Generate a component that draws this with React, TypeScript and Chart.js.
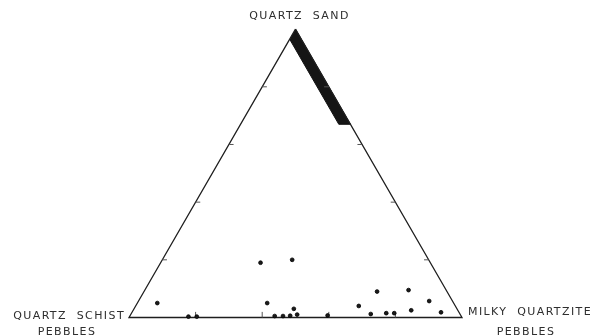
import React, { useEffect, useRef } from "react";
import { Chart, registerables } from "chart.js";

Chart.register(...registerables);

// Ternary compositions (percent): quartz sand (apex), quartz schist pebbles (left), milky quartzite pebbles (right)
const sampleSand = [5, 19, 20, 5, 3, 1, 0.3, 0.3, 0.5, 0.5, 0.6, 0.7, 9, 9.5, 4, 5.7, 2.5, 1.8, 1.2, 1.5, 1.5];
const sampleSchist = [89, 51, 41, 56, 49, 49, 82, 79.5, 56, 53.5, 51.3, 40, 21, 11.3, 29, 7, 14, 5.4, 26.8, 22, 19.6];
const sampleMilky = [6, 30, 39, 39, 48, 50, 17.7, 20.2, 43.5, 46, 48.1, 59.3, 70, 79.2, 67, 87.3, 83.5, 92.8, 72, 76.5, 78.9];

// Shaded field along the sand–milky quartzite side
const bandSand = [100, 67, 67, 96.5];
const bandSchist = [0, 0, 3.5, 3.5];

// Tick marks on each side (percent)
const tickValues = [20, 40, 60, 80];

const apexLabel = ["QUARTZ  SAND"];
const leftLabel = ["QUARTZ  SCHIST", "PEBBLES"];
const rightLabel = ["MILKY  QUARTZITE", "PEBBLES"];

const H = Math.sqrt(3) / 2;
function toXY(sand: number, schist: number, milky: number) {
  const s = sand + schist + milky;
  const a = sand / s;
  const c = milky / s;
  return { x: c + a / 2, y: a * H };
}

export default function App() {
  const ref = useRef<HTMLCanvasElement | null>(null);

  useEffect(() => {
    if (!ref.current) return;

    const points = sampleSand.map((s, i) => toXY(s, sampleSchist[i], sampleMilky[i]));
    const triangle = [toXY(100, 0, 0), toXY(0, 100, 0), toXY(0, 0, 100), toXY(100, 0, 0)];
    const band = bandSand.map((s, i) => toXY(s, bandSchist[i], 100 - s - bandSchist[i]));

    const tl = 0.014;
    const ticks: { x: number; y: number | null }[] = [];
    tickValues.forEach((t) => {
      const l = toXY(t, 100 - t, 0);
      ticks.push({ x: l.x, y: l.y }, { x: l.x + tl, y: l.y }, { x: l.x + tl, y: null });
      const r = toXY(t, 0, 100 - t);
      ticks.push({ x: r.x, y: r.y }, { x: r.x - tl, y: r.y }, { x: r.x - tl, y: null });
      const b = toXY(0, 100 - t, t);
      ticks.push({ x: b.x, y: b.y }, { x: b.x, y: b.y + tl * 1.2 }, { x: b.x, y: null });
    });

    const labelPlugin = {
      id: "ternaryLabels",
      afterDraw(chart: any) {
        const ctx = chart.ctx;
        const xs = chart.scales.x;
        const ys = chart.scales.y;
        const px = (p: { x: number; y: number }) => ({ x: xs.getPixelForValue(p.x), y: ys.getPixelForValue(p.y) });
        const A = px(toXY(100, 0, 0));
        const B = px(toXY(0, 100, 0));
        const C = px(toXY(0, 0, 100));
        ctx.save();
        ctx.fillStyle = "#2e2e2e";
        ctx.font = "11px 'DejaVu Sans', sans-serif";
        (ctx as any).letterSpacing = "1.4px";
        ctx.textBaseline = "middle";
        ctx.textAlign = "center";
        ctx.fillText(apexLabel[0], A.x + 4, A.y - 13);
        ctx.textAlign = "right";
        ctx.fillText(leftLabel[0], B.x - 4, B.y - 1);
        ctx.textAlign = "center";
        ctx.fillText(leftLabel[1], B.x - 62, B.y + 15);
        ctx.textAlign = "left";
        ctx.fillText(rightLabel[0], C.x + 6, C.y - 5);
        ctx.textAlign = "center";
        ctx.fillText(rightLabel[1], C.x + 64, C.y + 15);
        ctx.restore();
      },
    };

    const chart = new Chart(ref.current, {
      type: "line",
      data: {
        datasets: [
          {
            data: points,
            showLine: false,
            pointRadius: 1.9,
            pointBackgroundColor: "#1a1a1a",
            pointBorderColor: "#000",
            pointBorderWidth: 0.8,
            order: 0,
          },
          {
            data: ticks as any,
            showLine: true,
            spanGaps: false,
            borderColor: "#555",
            borderWidth: 1,
            pointRadius: 0,
            fill: false,
            order: 1,
          },
          {
            data: triangle,
            borderColor: "#1e1e1e",
            borderWidth: 1.3,
            pointRadius: 0,
            fill: false,
            tension: 0,
            order: 2,
          },
          {
            data: band,
            borderColor: "#111",
            borderWidth: 1,
            backgroundColor: "#151515",
            pointRadius: 0,
            fill: "shape",
            tension: 0,
            order: 3,
          },
        ],
      },
      options: {
        animation: false,
        responsive: false,
        maintainAspectRatio: false,
        layout: { padding: 0, autoPadding: false } as any,
        parsing: false as any,
        plugins: { legend: { display: false }, tooltip: { enabled: false }, title: { display: false } },
        scales: {
          x: { type: "linear", min: -0.3874, max: 1.3904, display: false },
          y: { type: "linear", min: -0.0526, max: 0.9535, display: false },
        },
      },
      plugins: [labelPlugin],
    });

    return () => chart.destroy();
  }, []);

  return (
    <div style={{ position: "fixed", left: 0, top: 0, width: 592, height: 335, background: "#fff" }}>
      <canvas ref={ref} width={592} height={335} />
    </div>
  );
}
